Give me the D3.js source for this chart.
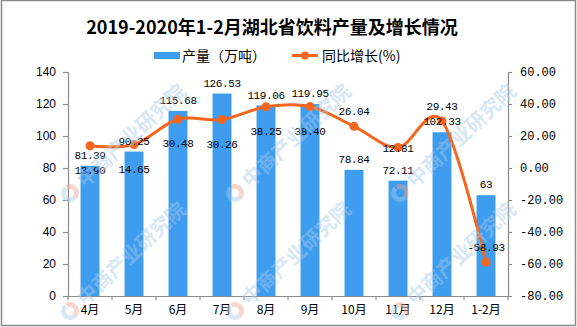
<!DOCTYPE html>
<html><head><meta charset="utf-8">
<script src="https://cdn.jsdelivr.net/npm/d3@7/dist/d3.min.js"></script>
<style>
html,body{margin:0;padding:0;background:#fff;}
svg{display:block;}
</style></head>
<body><svg id="c" width="577" height="327"></svg>
<script>
const title = "2019-2020年1-2月湖北省饮料产量及增长情况";
const categories = ["4月","5月","6月","7月","8月","9月","10月","11月","12月","1-2月"];
const output = [81.39, 90.25, 115.68, 126.53, 119.06, 119.95, 78.84, 72.11, 102.33, 63];
const outputLabels = ["81.39","90.25","115.68","126.53","119.06","119.95","78.84","72.11","102.33","63"];
const growth = [13.90, 14.65, 30.48, 30.26, 38.25, 38.40, 26.04, 12.81, 29.43, -58.93];
const growthLabelSide = ["below","below","below","below","below","below","above","center","above","above"];
const leftTicks = [0,20,40,60,80,100,120,140];
const rightTicks = [-80,-60,-40,-20,0,20,40,60];
const seriesNames = ["产量（万吨）","同比增长(%)"];

const barColor = "#3F9DF0", lineColor = "#F4661E", axisColor = "#8c8c8c";
const svg = d3.select("#c");
const W = 577, H = 327;
const m = {left:68, right:508, top:72, bottom:296};

// frame
svg.append("rect").attr("x",1.5).attr("y",0.5).attr("width",W-3).attr("height",H-2)
  .attr("fill","#fff").attr("stroke","#8a8a8a").attr("stroke-width",1.5);

const x = d3.scaleBand().domain(categories).range([m.left, m.right]).padding(0);
const yL = d3.scaleLinear().domain([0,140]).range([m.bottom, m.top]);
const yR = d3.scaleLinear().domain([-80,60]).range([m.bottom, m.top]);
const barW = x.bandwidth()*0.43;

// bars
svg.append("g").selectAll("rect").data(output).join("rect")
  .attr("x",(d,i)=>x(categories[i]) + (x.bandwidth()-barW)/2)
  .attr("y",d=>yL(d)).attr("width",barW).attr("height",d=>yL(0)-yL(d))
  .attr("fill",barColor);

// axes
const gL = svg.append("g").attr("transform",`translate(${m.left},0)`)
  .call(d3.axisLeft(yL).tickValues(leftTicks).tickSize(5).tickPadding(7).tickFormat(d3.format("d")));
gL.selectAll("text").attr("font-family","'Liberation Sans',Arial,sans-serif").attr("font-size",12).attr("fill","#000");
const gR = svg.append("g").attr("transform",`translate(${m.right},0)`)
  .call(d3.axisRight(yR).tickValues(rightTicks).tickSize(4).tickPadding(8).tickFormat(d=>d3.format(".2f")(d).replace("−","-")));
gR.selectAll("text").attr("font-family","'Liberation Mono',monospace").attr("font-size",12).attr("fill","#000");
const gX = svg.append("g").attr("transform",`translate(0,${m.bottom})`)
  .call(d3.axisBottom(x).tickSize(0).tickPadding(9));
gX.selectAll("text").attr("font-family","'Noto Sans CJK SC',sans-serif").attr("font-size",12).attr("fill","#000");
// category boundary ticks
const bounds = categories.map(c=>x(c)).concat([x(categories[categories.length-1])+x.bandwidth()]);
gX.append("g").selectAll("line").data(bounds).join("line")
  .attr("x1",d=>d).attr("x2",d=>d).attr("y1",0).attr("y2",4).attr("stroke",axisColor);
[gL,gR,gX].forEach(g=>{g.selectAll("path,line").attr("stroke",axisColor).attr("stroke-width",1.2);});

// line
const cx = (d,i)=>x(categories[i]) + x.bandwidth()/2;
const line = d3.line().x(cx).y(d=>yR(d)).curve(d3.curveCardinal.tension(0));
svg.append("path").datum(growth).attr("d",line).attr("fill","none")
  .attr("stroke",lineColor).attr("stroke-width",3);
svg.append("g").selectAll("circle").data(growth).join("circle")
  .attr("cx",cx).attr("cy",d=>yR(d)).attr("r",4.5).attr("fill",lineColor);

// labels
const labFont = "'Liberation Mono',monospace";
svg.append("g").selectAll("text").data(output).join("text")
  .attr("x",cx).attr("y",d=>yL(d)-7).attr("text-anchor","middle")
  .attr("font-family",labFont).attr("font-size",11).attr("letter-spacing","-0.4")
  .attr("fill","#000").text((d,i)=>outputLabels[i]);
const sideDy = {below:28, above:-11, center:4};
svg.append("g").selectAll("text").data(growth).join("text")
  .attr("x",cx).attr("y",(d,i)=>yR(d)+sideDy[growthLabelSide[i]]).attr("text-anchor","middle")
  .attr("font-family",labFont).attr("font-size",11).attr("letter-spacing","-0.4")
  .attr("fill","#000").text(d=>d3.format(".2f")(d).replace("−","-"));

// title
svg.append("text").attr("x",272).attr("y",34).attr("text-anchor","middle")
  .attr("font-family","'Noto Sans CJK SC',sans-serif").attr("font-weight","bold")
  .attr("font-size",18).attr("fill","#000").text(title);

// legend
const lg = svg.append("g");
lg.append("rect").attr("x",154).attr("y",52).attr("width",26).attr("height",7).attr("fill",barColor);
lg.append("text").attr("x",182).attr("y",60.5).attr("font-family","'Noto Sans CJK SC',sans-serif")
  .attr("font-size",14).attr("fill","#000").text(seriesNames[0]);
lg.append("line").attr("x1",292).attr("x2",318).attr("y1",55.5).attr("y2",55.5)
  .attr("stroke",lineColor).attr("stroke-width",3);
lg.append("circle").attr("cx",305).attr("cy",55.5).attr("r",4).attr("fill",lineColor);
lg.append("text").attr("x",322).attr("y",60.5).attr("font-family","'Noto Sans CJK SC',sans-serif")
  .attr("font-size",14).attr("fill","#000").text(seriesNames[1]);

// watermarks (only the ones fully inside the picture)
const wm = svg.append("g").attr("pointer-events","none");
for (let i=1;i<4;i++){
  for (let j=2;j<4;j++){
    const ox = -95 + 165*i, oy = -43 + 118*j;
    const g = wm.append("g").attr("transform",`translate(${ox},${oy}) rotate(-43)`);
    g.append("path").attr("d",d3.arc()({innerRadius:4,outerRadius:9,startAngle:Math.PI,endAngle:2*Math.PI}))
      .attr("fill","#a9cbe8").attr("opacity",0.45);
    g.append("path").attr("d",d3.arc()({innerRadius:4,outerRadius:9,startAngle:0.2,endAngle:Math.PI}))
      .attr("fill","#f2a58c").attr("opacity",0.45);
    g.append("text").attr("x",14).attr("y",7).attr("font-family","'Noto Sans CJK SC',sans-serif")
      .attr("font-weight","bold").attr("font-size",20).attr("fill","#a9cbe8").attr("opacity",0.45)
      .text("中商产业研究院");
  }
}
</script></body></html>
